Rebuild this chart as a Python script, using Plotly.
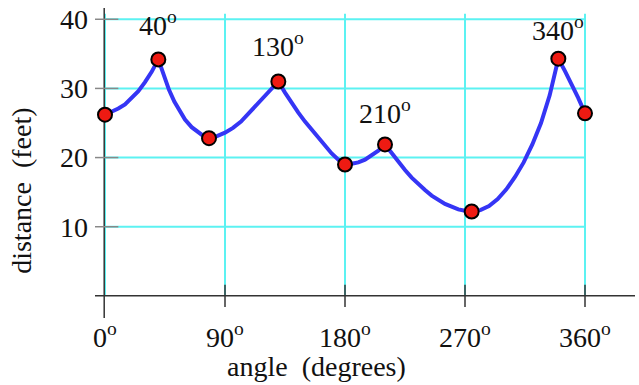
import plotly.graph_objects as go

# Measured points (angle in degrees, distance in feet)
point_angle = [0, 40, 78, 130, 180, 210, 275, 340, 360]
point_dist = [26.2, 34.2, 22.8, 31.0, 19.0, 21.9, 12.2, 34.3, 26.4]

# Labelled peaks
label_angle = [40, 130, 210, 340]
label_dist = [34.2, 31.0, 21.9, 34.3]

# Distance curve sampled along the angle
curve_angle = [0, 5, 10, 15, 20, 25, 30, 35, 40,
               44, 48, 52, 56, 60, 65, 70, 74, 78,
               84, 90, 96, 102, 108, 114, 120, 125, 130,
               135, 140, 145, 150, 155, 160, 165, 170, 175, 180,
               185, 190, 195, 200, 205, 210,
               215, 220, 225, 230, 235, 240, 245, 250, 255, 260, 265, 270, 275,
               281.5, 288, 294.5, 301, 307.5, 314, 320.5, 327, 333.5, 340,
               345, 350, 355, 360]
curve_dist = [26.2, 26.6, 27.1, 27.7, 28.6, 29.6, 30.9, 32.4, 34.2,
              31.8, 29.8, 28.1, 26.7, 25.5, 24.4, 23.6, 23.1, 22.8,
              23.1, 23.6, 24.3, 25.2, 26.4, 27.7, 29.0, 30.0, 31.0,
              29.4, 27.9, 26.5, 25.2, 24.0, 22.8, 21.7, 20.6, 19.7, 19.0,
              19.1, 19.3, 19.7, 20.3, 21.0, 21.9,
              20.6, 19.3, 18.2, 17.1, 16.1, 15.3, 14.5, 13.9, 13.3, 12.9, 12.5, 12.3, 12.2,
              12.4, 13.0, 14.0, 15.4, 17.2, 19.3, 21.9, 25.0, 29.0, 34.3,
              32.5, 30.6, 28.6, 26.4]

x_ticks = [0, 90, 180, 270, 360]
x_tick_text = [f"{v}<sup>o</sup>" for v in x_ticks]
y_ticks = [10, 20, 30, 40]

X_MIN, X_MAX = -7.5, 397.5
Y_MIN, Y_MAX = -3.2, 41.63
GRID_TOP = 40.8

FONT = "Liberation Serif, Times New Roman, serif"
FS = 28
GRID = "#5cf2f2"
AXIS = "#333333"
TEXT = "#111111"
label_lift = [36, 37, 33, 30]  # pixel lift of each peak label above its point

fig = go.Figure()

fig.add_trace(go.Scatter(
    x=curve_angle, y=curve_dist, mode="lines",
    line=dict(color="#3535f5", width=4), hoverinfo="skip",
))
fig.add_trace(go.Scatter(
    x=point_angle, y=point_dist, mode="markers",
    marker=dict(size=14, color="#ee1a12", line=dict(color="black", width=2)),
))

shapes = []
# Grid
for v in x_ticks:
    shapes.append(dict(type="line", xref="x", yref="y", x0=v, x1=v, y0=0, y1=GRID_TOP,
                       line=dict(color=GRID, width=2), layer="below"))
for v in y_ticks:
    shapes.append(dict(type="line", xref="x", yref="y", x0=0, x1=360, y0=v, y1=v,
                       line=dict(color=GRID, width=2), layer="below"))
# Axes
shapes.append(dict(type="line", xref="x", yref="y", x0=X_MIN, x1=X_MAX, y0=0, y1=0,
                   line=dict(color=AXIS, width=1.5), layer="below"))
shapes.append(dict(type="line", xref="x", yref="y", x0=-0.6, x1=-0.6, y0=Y_MIN, y1=Y_MAX,
                   line=dict(color=AXIS, width=1.5), layer="below"))
# Tick marks
for v in y_ticks:
    shapes.append(dict(type="line", xref="x", yref="y", x0=X_MIN, x1=10, y0=v, y1=v,
                       line=dict(color="#888888", width=1.5), layer="below"))
for v in x_ticks[1:]:
    shapes.append(dict(type="line", xref="x", yref="y", x0=v, x1=v, y0=-1.6, y1=1.6,
                       line=dict(color=AXIS, width=1.5), layer="below"))

annotations = []
for a, d, lift in zip(label_angle, label_dist, label_lift):
    annotations.append(dict(x=a, y=d, xref="x", yref="y", text=f"{a}<sup>o</sup>",
                            showarrow=False, xanchor="center", yanchor="middle", yshift=lift,
                            font=dict(family=FONT, size=FS, color=TEXT)))

# Axis titles, placed by pixel position within the 639x385 page
L, R, T, B = 95, 4, 6, 67
W, H = 639, 385


def paper_x(px):
    return (px - L) / (W - L - R)


def paper_y(py):
    return 1 - (py - T) / (H - T - B)


annotations.append(dict(x=paper_x(316), y=paper_y(367), xref="paper", yref="paper",
                        text="angle\u00a0\u00a0(degrees)", showarrow=False,
                        xanchor="center", yanchor="middle",
                        font=dict(family=FONT, size=FS, color=TEXT)))
annotations.append(dict(x=paper_x(22), y=paper_y(190), xref="paper", yref="paper",
                        text="distance\u00a0\u00a0(feet)", showarrow=False, textangle=-90,
                        xanchor="center", yanchor="middle",
                        font=dict(family=FONT, size=FS, color=TEXT)))

fig.update_layout(
    width=W, height=H,
    margin=dict(l=L, r=R, t=T, b=B, pad=0),
    paper_bgcolor="white", plot_bgcolor="white",
    showlegend=False,
    shapes=shapes, annotations=annotations,
    xaxis=dict(range=[X_MIN, X_MAX], showgrid=False, zeroline=False, showline=False,
               tickvals=x_ticks, ticktext=x_tick_text, ticks="",
               tickfont=dict(family=FONT, size=FS, color=TEXT)),
    yaxis=dict(range=[Y_MIN, Y_MAX], showgrid=False, zeroline=False, showline=False,
               tickvals=y_ticks, ticks="", ticklabelstandoff=6,
               tickfont=dict(family=FONT, size=FS, color=TEXT)),
)

fig.write_html("out.html")
